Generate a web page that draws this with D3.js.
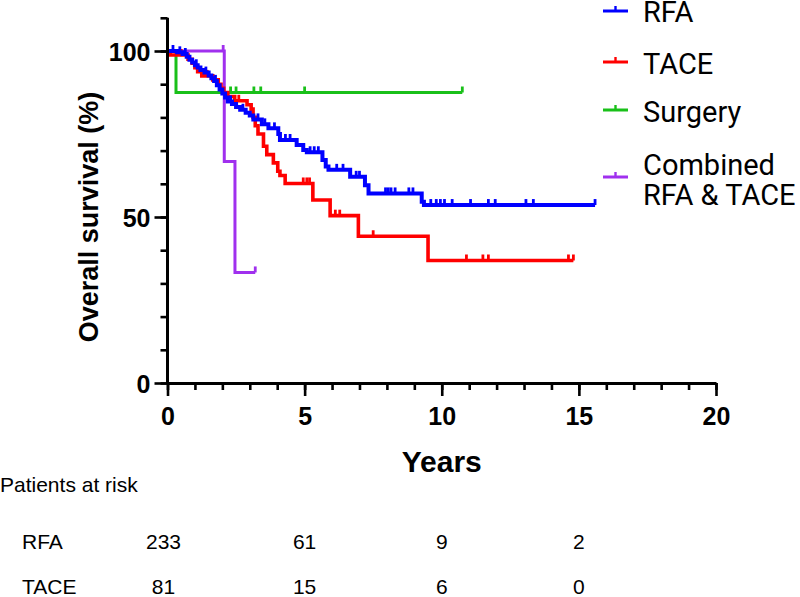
<!DOCTYPE html>
<html>
<head>
<meta charset="utf-8">
<script src="https://cdn.jsdelivr.net/npm/d3@7"></script>
<style>
  html, body { margin: 0; padding: 0; background: #fff; }
  svg { display: block; }
</style>
</head>
<body>
<svg id="chart" width="800" height="597"></svg>
<script>
// ---------------- DATA ----------------
const seriesNames = ["RFA", "TACE", "Surgery", "Combined RFA & TACE"];

// RFA (blue) Kaplan-Meier steps
const rfaTimes = [0, 0.35, 0.55, 0.7, 0.8, 0.9, 1.0, 1.1, 1.2, 1.35, 1.5, 1.6, 1.7, 1.8, 1.9, 2.0, 2.1, 2.2, 2.35, 2.5, 2.65, 2.85, 3.0, 3.13, 3.44, 3.68, 4.04, 4.1, 4.71, 4.95, 5.08, 5.65, 5.77, 5.87, 6.66, 7.2, 7.33, 9.27, 9.35];
const rfaSurv  = [100, 99.6, 99.1, 98.3, 97.4, 96.5, 95.7, 95.0, 94.3, 93.5, 92.6, 91.8, 91.0, 89.7, 88.4, 87.2, 86.0, 84.8, 84.0, 83.1, 82.3, 81.4, 80.6, 79.4, 77.9, 76.7, 75.0, 73.2, 71.7, 70.2, 69.5, 67.2, 65.2, 64.2, 62.1, 59.6, 57.1, 54.6, 53.6];
const rfaCensor = [0.2, 0.45, 0.65, 1.05, 1.4, 1.75, 2.3, 2.75, 3.3, 3.55, 3.9, 4.3, 4.47, 5.2, 5.35, 5.5, 6.17, 6.4, 6.88, 7.0, 7.95, 8.05, 8.15, 8.3, 8.8, 8.95, 9.6, 9.8, 9.95, 10.1, 10.38, 11.05, 11.7, 11.95, 13.07, 13.34, 15.59];

// TACE (red)
const taceTimes = [0, 0.1, 0.75, 0.9, 1.0, 1.1, 1.25, 1.65, 1.85, 1.95, 2.05, 2.2, 2.45, 2.9, 3.05, 3.12, 3.2, 3.3, 3.5, 3.62, 3.86, 4.02, 4.1, 4.29, 5.3, 5.93, 6.96, 9.5];
const taceSurv  = [100, 98.8, 97.5, 96.3, 95.0, 93.8, 92.5, 91.3, 90.0, 88.8, 87.5, 86.3, 85.0, 83.8, 82.5, 80.0, 77.5, 75.0, 71.3, 68.8, 66.3, 63.8, 62.5, 60.1, 55.1, 50.4, 44.2, 36.9];
const taceCensor = [0.5, 1.45, 2.6, 4.95, 5.08, 5.18, 6.12, 6.28, 7.5, 10.9, 11.5, 11.7, 14.62, 14.8];

// Surgery (green)
const surgeryTimes = [0, 0.31];
const surgerySurv  = [100, 87.5];
const surgeryCensor = [2.3, 2.5, 3.15, 3.4, 5.0, 10.75];

// Combined RFA & TACE (purple)
const combinedTimes = [0, 2.07, 2.46];
const combinedSurv  = [100, 66.7, 33.3];
const combinedCensor = [2.03, 3.2];

// Axis ticks
const xMajorTicks = [0, 5, 10, 15, 20];
const xMinorTicks = d3.range(0, 21, 1);
const yMajorTicks = [0, 50, 100];
const yMinorTicks = d3.range(0, 111, 10);

// Patients at risk table
const riskTimes = [0, 5, 10, 15];
const riskRFA = [233, 61, 9, 2];
const riskTACE = [81, 15, 6, 0];

// ---------------- DRAW ----------------
const svg = d3.select("#chart");
const x = d3.scaleLinear().domain([0, 20]).range([167.5, 716]);
const y = d3.scaleLinear().domain([0, 110]).range([383, 17.8]);

const AX = "Liberation Sans, Arial, Helvetica, sans-serif";

const series = [
  { name: seriesNames[2], times: surgeryTimes, surv: surgerySurv, censor: surgeryCensor, color: "#19c019", w: 3 },
  { name: seriesNames[3], times: combinedTimes, surv: combinedSurv, censor: combinedCensor, color: "#a030ee", w: 3 },
  { name: seriesNames[1], times: taceTimes, surv: taceSurv, censor: taceCensor, color: "#ff0000", w: 3.6 },
  { name: seriesNames[0], times: rfaTimes, surv: rfaSurv, censor: rfaCensor, color: "#0000ff", w: 4 }
];

const line = d3.line().x(d => x(d[0])).y(d => y(d[1])).curve(d3.curveStepAfter);

function survAt(s, t) {
  let v = s.surv[0];
  for (let i = 0; i < s.times.length; i++) if (s.times[i] <= t) v = s.surv[i];
  return v;
}

series.forEach(s => {
  const pts = s.times.map((t, i) => [t, s.surv[i]]);
  const tEnd = d3.max(s.censor.concat(s.times));
  pts.push([tEnd, s.surv[s.surv.length - 1]]);
  const g = svg.append("g");
  g.append("path").attr("d", line(pts)).attr("fill", "none")
    .attr("stroke", s.color).attr("stroke-width", s.w).attr("stroke-linejoin", "miter");
  g.selectAll("line.c").data(s.censor).join("line")
    .attr("x1", d => x(d)).attr("x2", d => x(d))
    .attr("y1", d => y(survAt(s, d)))
    .attr("y2", d => y(survAt(s, d)) - 6)
    .attr("stroke", s.color).attr("stroke-width", 2.8);
});

// Axes
function styleAxis(g) {
  g.selectAll("path.domain").attr("stroke", "#000").attr("stroke-width", 3);
  g.selectAll(".tick line").attr("stroke", "#000").attr("stroke-width", 2.6);
}
const xMinor = svg.append("g").attr("transform", "translate(0,383)")
  .call(d3.axisBottom(x).tickValues(xMinorTicks).tickSize(7).tickFormat(""));
styleAxis(xMinor);
xMinor.select("path.domain").remove();
const xMajor = svg.append("g").attr("transform", "translate(0,383)")
  .call(d3.axisBottom(x).tickValues(xMajorTicks).tickSize(13).tickSizeOuter(0).tickFormat(d3.format("d")));
styleAxis(xMajor);
xMajor.selectAll(".tick text").attr("y", 42).attr("dy", 0)
  .attr("font-family", AX).attr("font-weight", "bold").attr("font-size", 25).attr("fill", "#000");

const yMinor = svg.append("g").attr("transform", "translate(167.5,0)")
  .call(d3.axisLeft(y).tickValues(yMinorTicks).tickSize(7).tickFormat(""));
styleAxis(yMinor);
yMinor.select("path.domain").remove();
const yMajor = svg.append("g").attr("transform", "translate(167.5,0)")
  .call(d3.axisLeft(y).tickValues(yMajorTicks).tickSize(13).tickSizeOuter(0).tickPadding(4).tickFormat(d3.format("d")));
styleAxis(yMajor);
yMajor.selectAll(".tick text").attr("dy", "0.36em")
  .attr("font-family", AX).attr("font-weight", "bold").attr("font-size", 25).attr("fill", "#000");
yMajor.select("path.domain").attr("d", `M0,${y(110)}V${y(0)}`);

// Axis titles
svg.append("text").attr("x", x(10)).attr("y", 472).attr("text-anchor", "middle")
  .attr("font-family", AX).attr("font-weight", "bold").attr("font-size", 30).text("Years");
svg.append("text").attr("transform", `translate(98,${y(50)}) rotate(-90)`).attr("text-anchor", "middle")
  .attr("font-family", AX).attr("font-weight", "bold").attr("font-size", 27).text("Overall survival (%)");

// Legend
const legendOrder = [
  { lines: [seriesNames[0]], color: "#0000ff", sy: 11, base: [22] },
  { lines: [seriesNames[1]], color: "#ff0000", sy: 62, base: [74] },
  { lines: [seriesNames[2]], color: "#19c019", sy: 110, base: [122] },
  { lines: ["Combined", "RFA & TACE"], color: "#a030ee", sy: 177, base: [175, 205] }
];
const LG = "Roboto, Liberation Sans, Arial, sans-serif";
legendOrder.forEach(l => {
  svg.append("line").attr("x1", 603).attr("x2", 628).attr("y1", l.sy).attr("y2", l.sy)
    .attr("stroke", l.color).attr("stroke-width", 3);
  svg.append("line").attr("x1", 615.5).attr("x2", 615.5).attr("y1", l.sy).attr("y2", l.sy - 5)
    .attr("stroke", l.color).attr("stroke-width", 2.4);
  l.lines.forEach((t, i) => {
    svg.append("text").attr("x", 643).attr("y", l.base[i]).attr("font-family", LG)
      .attr("font-size", 29).attr("fill", "#000").text(t);
  });
});

// Patients at risk table
const TB = "Liberation Sans, Arial, Helvetica, sans-serif";
svg.append("text").attr("x", 0).attr("y", 492).attr("font-family", TB).attr("font-size", 21).text("Patients at risk");
const rows = [{ label: seriesNames[0], vals: riskRFA, base: 549 }, { label: seriesNames[1], vals: riskTACE, base: 594 }];
rows.forEach(r => {
  svg.append("text").attr("x", 22).attr("y", r.base).attr("font-family", TB).attr("font-size", 21).text(r.label);
  r.vals.forEach((v, i) => {
    svg.append("text").attr("x", x(riskTimes[i]) - (i === 0 ? 4 : 0)).attr("y", r.base)
      .attr("text-anchor", "middle").attr("font-family", TB).attr("font-size", 21).text(v);
  });
});
</script>
</body>
</html>
